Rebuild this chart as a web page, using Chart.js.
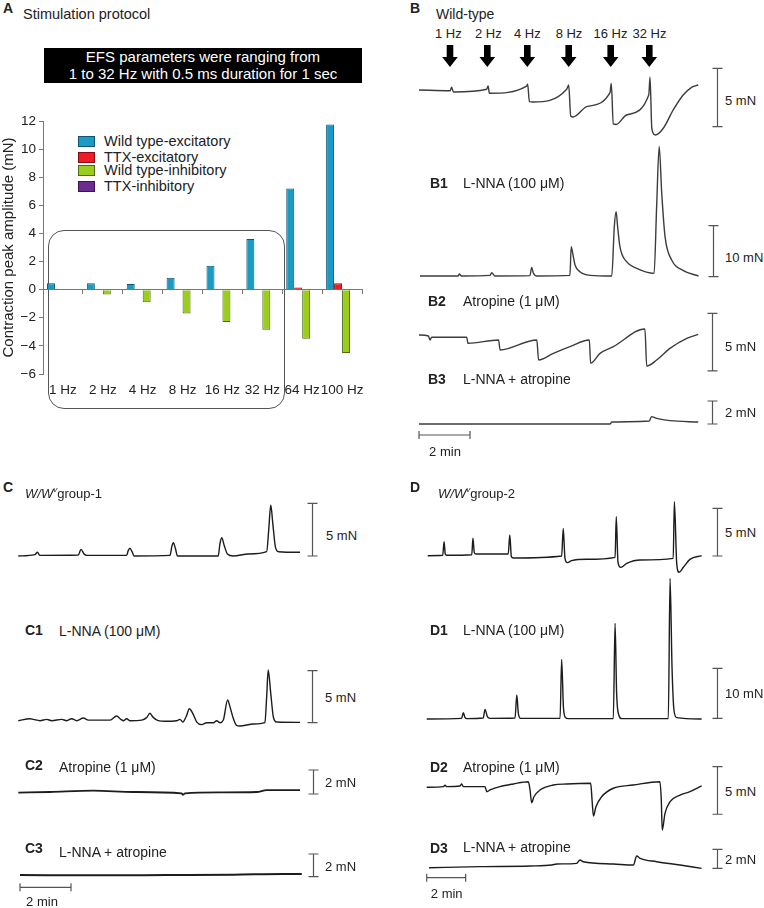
<!DOCTYPE html>
<html><head><meta charset="utf-8">
<script src="https://cdn.jsdelivr.net/npm/chart.js@4/dist/chart.umd.min.js"></script>
<style>
html,body{margin:0;padding:0;background:#fff;}
#root{position:relative;width:764px;height:908px;overflow:hidden;font-family:"Liberation Sans",Arial,sans-serif;color:#222;}
.t{position:absolute;white-space:nowrap;font-size:13px;line-height:1;transform:translateY(-50%);}
.c{transform:translate(-50%,-50%);}
.b{font-weight:bold;font-size:14px;}
.h{font-size:14px;}
.lg{font-size:14.5px;}
canvas{position:absolute;}
</style></head><body><div id="root"></div>
<script>
// ---------- Panel A data ----------
const freqLabels = ['1 Hz','2 Hz','4 Hz','8 Hz','16 Hz','32 Hz','64 Hz','100 Hz'];
const wtExcitatory  = [0.45, 0.45, 0.4, 0.85, 1.7, 3.6, 7.2, 11.75];
const ttxExcitatory = [0, 0, 0, 0, 0, 0, 0.15, 0.45];
const wtInhibitory  = [0, -0.35, -0.9, -1.7, -2.3, -2.85, -3.5, -4.5];
const ttxInhibitory = [0, 0, 0, 0, 0, 0, 0, 0];
const seriesNames = ['Wild type-excitatory','TTX-excitatory','Wild type-inhibitory','TTX-inhibitory'];
const yMin = -6, yMax = 12, yStep = 2;

// ---------- Traces (time in min, force in mN) ----------
const stimLabels = ['1 Hz','2 Hz','4 Hz','8 Hz','16 Hz','32 Hz'];
// B Wild-type
const wtTime  = [0,1.22,1.28,1.35,2.65,2.71,2.76,4.22,4.26,4.33,4.47,5.79,5.87,5.95,6.04,6.58,7.49,7.54,7.62,7.73,8.14,9.01,9.06,9.13,9.27,9.58,9.97,10.36,10.69,10.95];
const wtForce = [0,-0.06,0.23,-0.17,0.06,0.34,-0.28,0.34,0.49,-1.00,-1.03,0.06,0.43,-2.23,-2.31,-1.43,-0.23,0.57,-2.91,-2.96,-2.14,-0.43,1.09,-3.28,-3.86,-3.28,-1.71,-0.43,0.23,0.43];
// B1 L-NNA
const lnnaTime  = [0,1.50,1.54,1.63,2.75,2.81,2.94,4.31,4.38,4.44,4.58,5.88,5.93,5.99,6.08,6.27,6.67,7.52,7.62,7.69,7.75,7.84,8.10,8.50,9.18,9.28,9.38,9.48,9.61,9.87,10.33,10.92];
const lnnaForce = [0,0,0.39,0,0.13,0.65,0,0.07,1.70,0.65,0,0.13,5.75,4.44,2.16,0.85,0.13,0,9.67,12.6,9.67,5.75,2.81,1.50,0.52,13.6,25.4,16.2,7.71,3.14,1.05,0];
// B2 Atropine
const atrTime  = [0,0.37,0.43,0.50,1.87,1.92,3.12,3.18,4.62,4.69,5.27,5.92,6.68,6.73,7.10,7.62,8.86,8.93,9.32,9.84,10.50,10.95];
const atrForce = [0,-0.09,-0.43,-0.20,-0.20,-0.72,-0.43,-1.30,-0.43,-2.17,-1.59,-1.01,-0.43,-2.46,-1.59,-1.01,0.52,-2.69,-2.17,-1.16,-0.29,0.06];
// B3 L-NNA + atropine
const lnAtTime  = [0,3.70,7.49,7.56,9.03,9.12,9.32,9.84,10.95];
const lnAtForce = [0,0,0,0.17,0.26,0.64,0.49,0.29,0.17];
// C W/Wv group-1
const g1Time  = [0,0.65,0.75,0.85,2.35,2.46,2.58,2.68,4.25,4.31,4.38,4.46,4.54,5.95,6.02,6.08,6.16,6.24,7.84,7.91,7.98,8.07,8.20,8.43,9.02,9.74,9.82,9.90,9.98,10.08,10.20,11.05];
const g1Force = [0,0.13,0.35,0.06,0.09,0.63,0.19,0.06,0.06,0.51,0.73,0.41,0,0.06,0.89,1.27,0.73,0,0,1.20,1.74,1.04,0.19,0,0.19,0.41,2.47,4.84,3.10,0.89,0.41,0.35];
const g1LnTime  = [0,0.46,0.59,0.85,1.11,1.31,1.70,1.90,2.09,2.29,2.55,2.75,3.60,3.86,3.99,4.12,4.25,4.38,4.84,5.04,5.16,5.29,5.49,5.75,6.21,6.34,6.45,6.58,6.71,6.84,7.00,7.19,7.39,7.65,7.78,7.91,8.04,8.21,8.30,8.43,8.56,8.69,9.22,9.67,9.74,9.80,9.90,10.00,10.13,11.05];
const g1LnForce = [0,0.19,0.13,0,0.13,0,0.13,0,0.19,0,0.26,0.06,0.06,0.45,0.19,0,0.19,0,0.06,0.32,0.71,0.32,0,-0.06,0,0.13,-0.13,0.38,1.15,0.71,-0.13,-0.38,-0.19,-0.19,0,-0.19,0.06,1.99,1.35,0.23,-0.45,-0.51,-0.32,-0.19,2.31,4.87,2.63,0.38,-0.13,-0.16];
const g1AtTime  = [0,1.24,2.94,4.51,6.41,6.45,6.54,7.91,9.35,9.74,11.05];
const g1AtForce = [0,0.06,0.17,0.06,-0.06,-0.17,-0.06,0.03,0.06,0.22,0.22];
const g1LaTime  = [0,3.14,5.75,8.37,10.33,11.05];
const g1LaForce = [0,-0.03,0,0.03,0.09,0.09];
// D W/Wv group-2
const g2Time  = [0,0.77,0.84,0.90,0.97,2.26,2.32,2.39,2.48,4.13,4.21,4.29,4.39,6.87,6.95,7.04,7.16,7.38,8.15,9.61,9.67,9.76,9.90,10.21,10.89,12.59,12.65,12.77,12.89,13.11,13.45,14.05];
const g2Force = [0,0.04,1.47,0.18,0.04,0.10,1.83,0.31,0.18,0.18,2.17,-0.10,-0.24,-0.03,2.87,-0.28,-0.73,-0.52,-0.38,-0.17,4.09,-0.73,-1.22,-0.80,-0.45,-0.28,5.67,-0.80,-1.74,-1.22,-0.38,0];
const g2LnTime  = [0,1.79,1.88,1.96,2.05,2.90,2.99,3.11,3.25,4.53,4.62,4.70,4.82,6.84,6.92,7.01,7.11,7.26,9.57,9.66,9.74,9.85,10.0,12.39,12.48,12.58,12.68,12.82,14.10];
const g2LnForce = [0,0.13,1.27,0.33,0.07,0.2,1.93,0.47,0.13,0.2,4.8,1.13,0.13,0.13,11.93,2.47,0.33,0.07,0.07,19.13,5.13,0.8,0.07,0.07,28.13,10.47,1.8,0.27,0];
const g2AtTime  = [0,0.85,0.94,1.03,1.71,1.79,1.88,2.99,3.08,3.25,3.76,4.44,5.21,5.30,5.38,5.50,5.81,6.49,7.18,8.41,8.48,8.55,8.68,8.97,9.57,10.59,11.96,12.03,12.08,12.22,12.48,12.99,13.50,14.10];
const g2AtForce = [0,0.07,0.21,0.07,0.14,0.35,0.07,0.07,-0.46,-0.28,0.07,0.35,0.59,-0.28,-1.62,-0.99,-0.28,0.24,0.35,0.42,-1.33,-3.01,-2.04,-0.99,-0.10,0.24,0.59,-1.33,-4.48,-2.73,-1.51,-0.81,-0.46,0.14];
const g2LaTime  = [0.12,2.74,5.30,6.41,6.67,7.69,7.86,8.03,9.58,10.60,10.77,10.94,11.80,12.99,14.10];
const g2LaForce = [0,0.11,0.18,0.28,0.39,0.46,0.81,0.63,0.39,0.28,1.23,0.98,0.63,0.28,-0.07];

// ---------- helpers ----------
const root = document.getElementById('root');
const FONT = '"Liberation Sans", Arial, sans-serif';
function txt(x, y, html, cls) {
  const d = document.createElement('div');
  d.className = 't' + (cls ? ' ' + cls : '');
  d.style.left = x + 'px'; d.style.top = y + 'px';
  d.innerHTML = html; root.appendChild(d); return d;
}
function canvasAt(l, t, w, h) {
  const c = document.createElement('canvas');
  c.width = w; c.height = h;
  c.style.left = l + 'px'; c.style.top = t + 'px';
  c.style.width = w + 'px'; c.style.height = h + 'px';
  root.appendChild(c); return c;
}

// ---------- Panel A ----------
txt(3, 8, 'A', 'b');
txt(23, 14, 'Stimulation protocol', 'lg');
const box = document.createElement('div');
box.style.cssText = 'position:absolute;left:44px;top:48px;width:318px;height:35px;background:#000;color:#fff;font-size:15px;line-height:16.5px;display:flex;align-items:center;justify-content:center;text-align:center;';
box.innerHTML = 'EFS parameters were ranging from<br>1 to 32 Hz with 0.5 ms duration for 1 sec';
root.appendChild(box);

const fills = ['#1b9bc4','#ee1c24','#9acd1e','#6a2c91'];
const edges = ['#0e5670','#8a0c10','#4d6b0c','#3a1552'];
const seriesData = [wtExcitatory, ttxExcitatory, wtInhibitory, ttxInhibitory];
const legendY = [141, 157, 170, 186];
seriesNames.forEach((n, i) => {
  const sw = document.createElement('div');
  sw.style.cssText = `position:absolute;left:78px;top:${legendY[i]-5}px;width:15px;height:9px;background:${fills[i]};border:1px solid ${edges[i]};`;
  root.appendChild(sw);
  txt(104, legendY[i], n, 'lg');
});

const rr = document.createElement('div');
rr.style.cssText = 'position:absolute;left:48px;top:230px;width:235px;height:177px;border:1.3px solid #555;border-radius:16px;';
root.appendChild(rr);

const cA = canvasAt(0, 90, 380, 330);
new Chart(cA, {
  type: 'bar',
  data: {
    labels: freqLabels,
    datasets: seriesNames.map((n, i) => ({
      label: n, data: seriesData[i], backgroundColor: fills[i], borderColor: edges[i], borderWidth: 1
    }))
  },
  options: {
    responsive: false, animation: false, events: [],
    layout: { padding: { top: 31, right: 18, bottom: 16, left: 0 } },
    datasets: { bar: { categoryPercentage: 0.8, barPercentage: 1.0 } },
    plugins: { legend: { display: false }, tooltip: { enabled: false } },
    scales: {
      x: { type: 'category', position: { y: 0 }, offset: true,
           grid: { display: true, drawOnChartArea: false, drawTicks: true, tickLength: 4, offset: true, color: '#777' },
           border: { display: true, color: '#777', width: 1 }, ticks: { display: false } },
      x2: { type: 'category', axis: 'x', position: 'bottom', offset: true,
            grid: { display: false, drawTicks: false }, border: { display: false },
            ticks: { font: { size: 13.5, family: FONT }, color: '#222', padding: 8, autoSkip: false, maxRotation: 0 },
            afterFit(s) { s.height = 30; } },
      y: { type: 'linear', min: yMin, max: yMax,
           ticks: { stepSize: yStep, font: { size: 13.5, family: FONT }, color: '#222', padding: 3,
                    callback: v => v < 0 ? '\u2212' + Math.abs(v) : String(v) },
           grid: { drawOnChartArea: false, drawTicks: true, tickLength: 4, color: '#777' },
           border: { display: true, color: '#777', width: 1 },
           title: { display: true, text: 'Contraction peak amplitude (mN)', font: { size: 15, family: FONT }, color: '#222', padding: 0 },
           afterFit(s) { s.width = 43; } }
    }
  }
});

// ---------- Trace charts ----------
function trace(o) {
  const c = canvasAt(o.l, o.t, o.w, o.h);
  const xmin = (o.l - o.x0) / o.pxMin, xmax = (o.l + o.w - o.x0) / o.pxMin;
  const ymax = (o.y0 - o.t) / o.pxMN, ymin = (o.y0 - o.t - o.h) / o.pxMN;
  const barPlugin = {
    id: 'scalebars',
    afterDatasetsDraw(chart) {
      const ctx = chart.ctx, xs = chart.scales.x, ys = chart.scales.y;
      ctx.save();
      ctx.strokeStyle = '#555'; ctx.lineWidth = 1.2;
      const bx = Math.round(xs.getPixelForValue((o.barX - o.x0) / o.pxMin)) + 0.5;
      const y1 = ys.getPixelForValue(o.barFrom), y2 = ys.getPixelForValue(o.barFrom + o.barValue);
      ctx.beginPath();
      ctx.moveTo(bx, y1); ctx.lineTo(bx, y2);
      ctx.moveTo(bx - 5, y1); ctx.lineTo(bx + 5, y1);
      ctx.moveTo(bx - 5, y2); ctx.lineTo(bx + 5, y2);
      ctx.stroke();
      if (o.timeBarY !== undefined) {
        const ty = o.timeBarY - o.t;
        const tx1 = xs.getPixelForValue(0), tx2 = xs.getPixelForValue(2);
        ctx.beginPath();
        ctx.moveTo(tx1, ty); ctx.lineTo(tx2, ty);
        ctx.moveTo(tx1, ty - 4); ctx.lineTo(tx1, ty + 4);
        ctx.moveTo(tx2, ty - 4); ctx.lineTo(tx2, ty + 4);
        ctx.stroke();
      }
      ctx.restore();
    }
  };
  new Chart(c, {
    type: 'line',
    data: { datasets: [{ data: o.time.map((tv, i) => ({ x: tv, y: o.force[i] })),
      borderColor: o.color || '#222', borderWidth: o.lw || 1.4, pointRadius: 0, fill: false,
      cubicInterpolationMode: 'monotone', clip: false }] },
    options: {
      responsive: false, animation: false, events: [],
      layout: { padding: 0 },
      plugins: { legend: { display: false }, tooltip: { enabled: false } },
      scales: { x: { type: 'linear', display: false, min: xmin, max: xmax },
                y: { type: 'linear', display: false, min: ymin, max: ymax } }
    },
    plugins: [barPlugin]
  });
}

const BCOL = '#3c3c3c', CCOL = '#1c1c1c';
// Panel B
trace({ time: wtTime, force: wtForce, l: 409, t: 60, w: 316, h: 82, x0: 419, y0: 90, pxMin: 25.5, pxMN: 11.67, barX: 716.7, barFrom: -3.14, barValue: 5, color: BCOL });
trace({ time: lnnaTime, force: lnnaForce, l: 409, t: 140, w: 316, h: 145, x0: 420, y0: 276, pxMin: 25.5, pxMN: 5.1, barX: 713.3, barFrom: -0.13, barValue: 10, color: BCOL });
trace({ time: atrTime, force: atrForce, l: 409, t: 305, w: 316, h: 73, x0: 419, y0: 335, pxMin: 25.5, pxMN: 11.53, barX: 712, barFrom: -3.12, barValue: 5, color: BCOL });
trace({ time: lnAtTime, force: lnAtForce, l: 409, t: 395, w: 316, h: 50, x0: 419, y0: 424, pxMin: 25.5, pxMN: 11.5, barX: 712, barFrom: 0, barValue: 2, timeBarY: 435, color: BCOL });
// Panel C
trace({ time: g1Time, force: g1Force, l: 8, t: 497, w: 314, h: 65, x0: 18.3, y0: 556, pxMin: 25.5, pxMN: 10.53, barX: 311.7, barFrom: 0, barValue: 5, color: CCOL });
trace({ time: g1LnTime, force: g1LnForce, l: 8, t: 662, w: 314, h: 70, x0: 18.3, y0: 720.7, pxMin: 25.5, pxMN: 10.4, barX: 311.7, barFrom: -0.19, barValue: 5, color: CCOL });
trace({ time: g1AtTime, force: g1AtForce, l: 8, t: 764, w: 314, h: 38, x0: 18.3, y0: 792.7, pxMin: 25.5, pxMN: 12, barX: 313.3, barFrom: -0.11, barValue: 2, color: CCOL, lw: 1.8 });
trace({ time: g1LaTime, force: g1LaForce, l: 8, t: 846, w: 314, h: 48, x0: 20, y0: 875, pxMin: 25.5, pxMN: 11.35, barX: 313.3, barFrom: -0.15, barValue: 2, timeBarY: 887.3, color: CCOL, lw: 2 });
// Panel D
trace({ time: g2Time, force: g2Force, l: 418, t: 494, w: 307, h: 86, x0: 427.7, y0: 555.7, pxMin: 19.5, pxMN: 9.53, barX: 716.7, barFrom: -0.03, barValue: 5, color: CCOL });
trace({ time: g2LnTime, force: g2LnForce, l: 418, t: 572, w: 307, h: 154, x0: 426.7, y0: 719, pxMin: 19.5, pxMN: 5, barX: 716.7, barFrom: 0.14, barValue: 10, color: CCOL });
trace({ time: g2AtTime, force: g2AtForce, l: 418, t: 760, w: 307, h: 76, x0: 426.7, y0: 787.3, pxMin: 19.5, pxMN: 9.53, barX: 716.7, barFrom: -2.83, barValue: 5, color: CCOL });
trace({ time: g2LaTime, force: g2LaForce, l: 418, t: 843, w: 307, h: 42, x0: 426.7, y0: 867.7, pxMin: 19.5, pxMN: 9.5, barX: 716.7, barFrom: -0.07, barValue: 2, timeBarY: 877.7, color: CCOL });

// ---------- Panel B/C/D text ----------
txt(410, 8, 'B', 'b');
txt(436, 14, 'Wild-type', 'h');
const stimX = [448.3, 488.3, 527.3, 569, 610.5, 649.5];
const arrowX = [450, 487.3, 527.3, 568.7, 610.7, 649.3];
stimLabels.forEach((s, i) => txt(stimX[i], 33, s, 'c'));
const svgNS = 'http://www.w3.org/2000/svg';
const svg = document.createElementNS(svgNS, 'svg');
svg.setAttribute('width', '764'); svg.setAttribute('height', '80');
svg.style.cssText = 'position:absolute;left:0;top:0;';
arrowX.forEach(cx => {
  const p = document.createElementNS(svgNS, 'polygon');
  p.setAttribute('points', `${cx-3.3},45 ${cx+3.3},45 ${cx+3.3},57 ${cx+7.8},57 ${cx},67 ${cx-7.8},57 ${cx-3.3},57`);
  p.setAttribute('fill', '#000');
  svg.appendChild(p);
});
root.appendChild(svg);
txt(725, 100, '5 mN');
txt(430, 183, 'B1', 'b'); txt(463, 183, 'L-NNA (100 μM)', 'h');
txt(725, 257, '10 mN');
txt(428, 301, 'B2', 'b'); txt(463, 301, 'Atropine (1 μM)', 'h');
txt(725, 346, '5 mN');
txt(428, 379, 'B3', 'b'); txt(463, 379, 'L-NNA + atropine', 'h');
txt(725, 412, '2 mN');
txt(445, 451, '2 min', 'c');

txt(3, 487, 'C', 'b');
txt(25, 493, '<i>W/W</i><sup style="font-size:8px;font-style:italic;vertical-align:6px">v</sup>group-1', '');
txt(326, 535, '5 mN');
txt(25, 630, 'C1', 'b'); txt(59, 631, 'L-NNA (100 μM)', 'h');
txt(325, 697, '5 mN');
txt(25, 765, 'C2', 'b'); txt(59, 767, 'Atropine (1 μM)', 'h');
txt(325, 782, '2 mN');
txt(25, 848, 'C3', 'b'); txt(59, 852, 'L-NNA + atropine', 'h');
txt(325, 866, '2 mN');
txt(42, 901, '2 min', 'c');

txt(410, 487, 'D', 'b');
txt(438, 493, '<i>W/W</i><sup style="font-size:8px;font-style:italic;vertical-align:6px">v</sup>group-2', '');
txt(725, 532, '5 mN');
txt(430, 630, 'D1', 'b'); txt(463, 630, 'L-NNA (100 μM)', 'h');
txt(725, 693, '10 mN');
txt(430, 767, 'D2', 'b'); txt(463, 767, 'Atropine (1 μM)', 'h');
txt(725, 791, '5 mN');
txt(430, 848, 'D3', 'b'); txt(463, 847, 'L-NNA + atropine', 'h');
txt(725, 859, '2 mN');
txt(446.7, 893, '2 min', 'c');
</script></body></html>
